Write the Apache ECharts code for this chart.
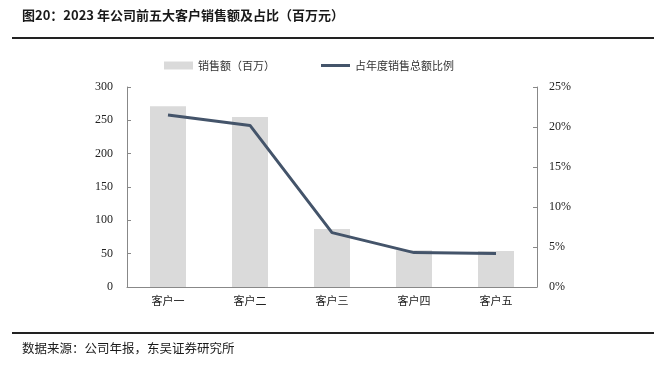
<!DOCTYPE html>
<html><head><meta charset="utf-8">
<script src="https://cdn.jsdelivr.net/npm/echarts@6/dist/echarts.min.js"></script>
<style>html,body{margin:0;padding:0;background:#fff}#c{width:654px;height:371px}</style>
</head><body><div id="c"></div>
<script>
const categories = ['客户一','客户二','客户三','客户四','客户五'];
const salesValues = [271, 255, 87, 55, 54];
const shareValues = [21.5, 20.2, 6.8, 4.3, 4.2];
const leftTicks = [0, 300, 50];
const rightTicks = [0, 25, 5];

const chart = echarts.init(document.getElementById('c'));
const serif = 'Liberation Serif, Times New Roman, serif';
const cjk = 'Noto Sans CJK SC';
chart.setOption({
  animation: false,
  backgroundColor: '#fff',
  graphic: [
    {type:'text', left:22, top:9, style:{text:'图20：2023 年公司前五大客户销售额及占比（百万元）', font:'bold 13px "Noto Sans CJK SC"', fill:'#1a1a1a'}},
    {type:'rect', shape:{x:12, y:37, width:642, height:2}, style:{fill:'#222'}},
    {type:'rect', shape:{x:12, y:332, width:642, height:2}, style:{fill:'#222'}},
    {type:'text', left:22, top:342, style:{text:'数据来源：公司年报，东吴证券研究所', font:'12.5px "Noto Sans CJK SC"', fill:'#1a1a1a'}}
  ],
  legend: {
    top: 55, left: 159, itemGap: 46, itemWidth: 29, itemHeight: 8,
    textStyle: {fontFamily: cjk, fontSize: 11, color: '#333'},
    data: [
      {name:'销售额（百万）', icon:'rect'},
      {name:'占年度销售总额比例', icon:'path://M0,0H29V3H0Z', itemStyle:{color:'#44546A'}}
    ]
  },
  grid: {left: 127, right: 117, top: 87, bottom: 84},
  xAxis: {
    type: 'category', data: categories,
    axisLine: {lineStyle: {color: '#888'}},
    axisTick: {inside: true, length: 4, lineStyle: {color: '#888'}},
    axisLabel: {fontFamily: cjk, fontSize: 11, color: '#222', margin: 8}
  },
  yAxis: [
    {type:'value', min:leftTicks[0], max:leftTicks[1], interval:leftTicks[2],
     axisLine:{show:true, lineStyle:{color:'#888'}},
     axisTick:{show:true, inside:true, length:4, lineStyle:{color:'#888'}},
     splitLine:{show:false},
     axisLabel:{fontFamily: serif, fontSize: 12, color:'#222', margin: 14}},
    {type:'value', min:rightTicks[0], max:rightTicks[1], interval:rightTicks[2],
     axisLine:{show:true, lineStyle:{color:'#888'}},
     axisTick:{show:true, inside:true, length:4, lineStyle:{color:'#888'}},
     splitLine:{show:false},
     axisLabel:{fontFamily: serif, fontSize: 12, color:'#222', margin: 12, formatter: '{value}%'}}
  ],
  series: [
    {name:'销售额（百万）', type:'bar', data: salesValues, barWidth: 36,
     itemStyle:{color:'#DADADA'}},
    {name:'占年度销售总额比例', type:'line', yAxisIndex:1, data: shareValues,
     symbol:'none', lineStyle:{color:'#44546A', width:3}, itemStyle:{color:'#44546A'}}
  ]
});
</script></body></html>
